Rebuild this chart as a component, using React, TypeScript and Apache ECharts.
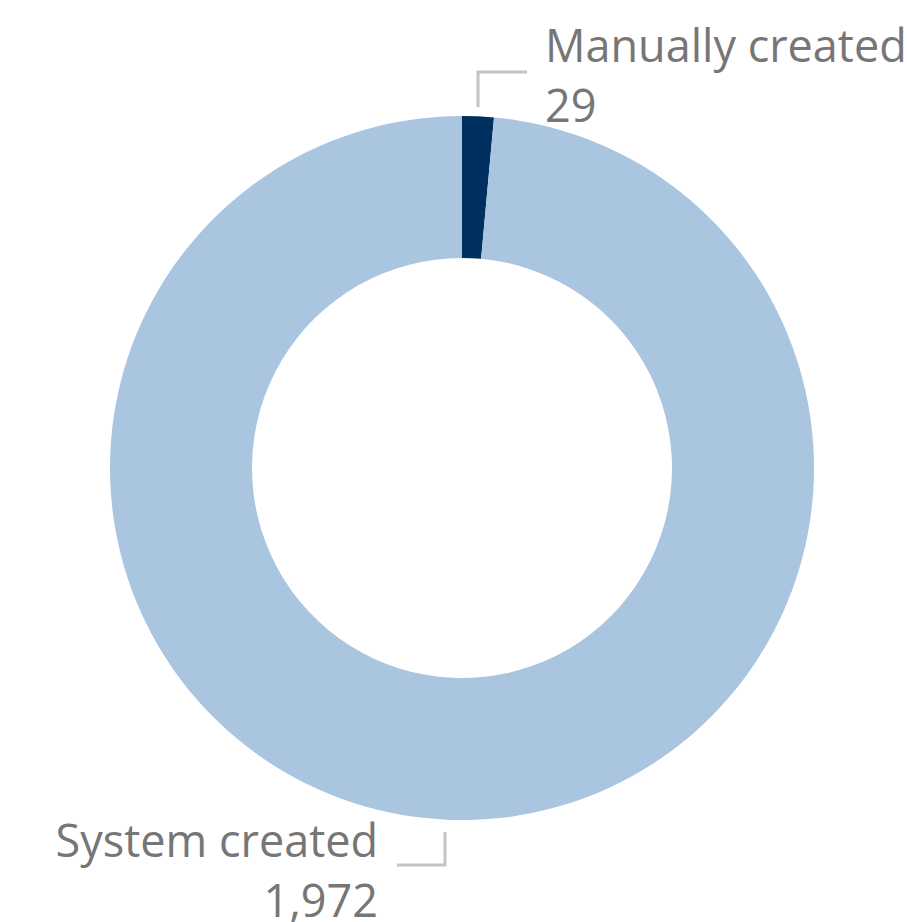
import React, { useEffect, useRef } from "react";
import * as echarts from "echarts";

const categories = ["Manually created", "System created"];
const values = [29, 1972];
const colors = ["#00305f", "#a9c5e0"];

export default function App() {
  const ref = useRef<HTMLDivElement>(null);
  useEffect(() => {
    if (!ref.current) return;
    const chart = echarts.init(ref.current, undefined, { renderer: "svg" });
    chart.setOption({
      animation: false,
      backgroundColor: "#ffffff",
      series: [
        {
          type: "pie",
          center: [462, 468],
          radius: [210, 352],
          startAngle: 90,
          clockwise: true,
          avoidLabelOverlap: false,
          data: categories.map((c, i) => ({
            name: c,
            value: values[i],
            itemStyle: { color: colors[i] },
          })),
          label: {
            show: true,
            formatter: (p: any) => `${p.name}\n${Number(p.value).toLocaleString("en-US")}`,
            fontFamily: "Open Sans",
            fontSize: 45,
            lineHeight: 60,
            color: "#767676",
          },
          labelLine: {
            show: true,
            lineStyle: { color: "#c4c4c4", width: 3 },
          },
          labelLayout: (params: any) => {
            if (params.dataIndex === 0) {
              return {
                x: 545,
                y: 14,
                align: "left",
                verticalAlign: "top",
                labelLinePoints: [
                  [478, 107],
                  [478, 72],
                  [527, 72],
                ],
              };
            }
            return {
              x: 378,
              y: 809,
              align: "right",
              verticalAlign: "top",
              labelLinePoints: [
                [445, 832],
                [445, 865],
                [397, 865],
              ],
            };
          },
          emphasis: { disabled: true },
        },
      ],
    });
    return () => chart.dispose();
  }, []);
  return (
    <div
      ref={ref}
      style={{ position: "absolute", left: 0, top: 0, width: 907, height: 922 }}
    />
  );
}
